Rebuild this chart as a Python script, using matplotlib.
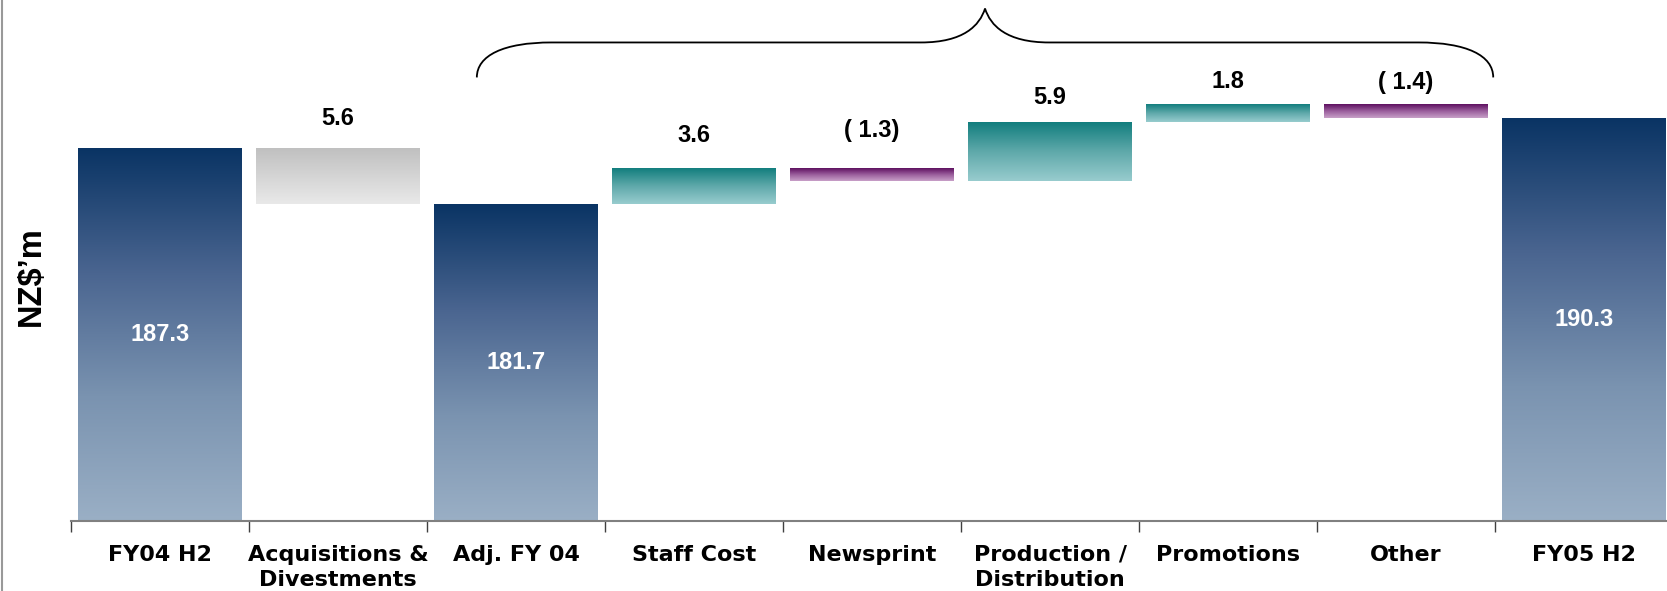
import numpy as np
import matplotlib
matplotlib.use("Agg")
import matplotlib.pyplot as plt
from matplotlib.colors import LinearSegmentedColormap
from matplotlib.path import Path
from matplotlib.patches import PathPatch
from matplotlib.lines import Line2D

# ---------------- data ----------------
categories = ["FY04 H2", "Acquisitions &\nDivestments", "Adj. FY 04", "Staff Cost", "Newsprint",
              "Production /\nDistribution", "Promotions", "Other", "FY05 H2"]
fy04_h2 = 187.3
acq_div = 5.6
adj_fy04 = 181.7
changes = [3.6, -1.3, 5.9, 1.8, -1.4]   # Staff Cost .. Other
fy05_h2 = 190.3

# ---------------- style ----------------
y_floor, y_ceiling = 150.0, 202.15
label_lift = [3.0, 3.3, 3.8, 2.45, 2.3, 2.2]   # value label offsets (acq + changes)
bar_w = 0.92
cmaps = {
    "total": LinearSegmentedColormap.from_list("tot", ["#0A3464", "#4A6590", "#7A93B0", "#9AAFC5"]),
    "adjust": LinearSegmentedColormap.from_list("adj", ["#C0C0C0", "#E9E9E9"]),
    "up": LinearSegmentedColormap.from_list("up", ["#127E7E", "#5FA9AA", "#98CCCE"]),
    "down": LinearSegmentedColormap.from_list("dn", ["#5E1060", "#9A5E9C", "#C8A0C8"]),
}

W, H, DPI = 1667, 591, 100
fig = plt.figure(figsize=(W / DPI, H / DPI), dpi=DPI)
ax_bottom = (H - 521) / H
ax = fig.add_axes([71 / W, ax_bottom, 9 * 178 / W, 1 - ax_bottom])

# ---------------- waterfall geometry ----------------
bottoms, tops, kinds = [], [], []
bottoms.append(y_floor); tops.append(fy04_h2); kinds.append("total")
bottoms.append(adj_fy04); tops.append(adj_fy04 + acq_div); kinds.append("adjust")
bottoms.append(y_floor); tops.append(adj_fy04); kinds.append("total")
run = adj_fy04
for c in changes:
    bottoms.append(min(run, run + c)); tops.append(max(run, run + c))
    kinds.append("up" if c > 0 else "down")
    run += c
bottoms.append(y_floor); tops.append(fy05_h2); kinds.append("total")

x = np.arange(len(categories))
heights = np.array(tops) - np.array(bottoms)
bars = ax.bar(x, heights, bottom=bottoms, width=bar_w, color="none", linewidth=0)

grad = np.linspace(0, 1, 256).reshape(-1, 1)
for patch, kind in zip(bars.patches, kinds):
    x0, y0 = patch.get_x(), patch.get_y()
    x1, y1 = x0 + patch.get_width(), y0 + patch.get_height()
    im = ax.imshow(grad, cmap=cmaps[kind], extent=[x0, x1, y0, y1], aspect="auto",
                   origin="upper", interpolation="bilinear", zorder=2)
    im.set_clip_path(patch)

# ---------------- labels ----------------
lab_font = dict(family=["Liberation Sans", "DejaVu Sans"], fontweight="bold", fontsize=17)
# totals (white, inside)
for i, v in [(0, fy04_h2), (2, adj_fy04), (8, fy05_h2)]:
    ax.text(x[i], (y_floor + v) / 2, f"{v:.1f}", ha="center", va="center", color="white",
            zorder=3, **lab_font)
# acquisitions
ax.text(x[1], tops[1] + label_lift[0], f"{acq_div:.1f}", ha="center", va="center",
        color="black", **lab_font)
for k, c in enumerate(changes):
    i = 3 + k
    txt = f"{c:.1f}" if c > 0 else f"( {abs(c):.1f})"
    ax.text(x[i], tops[i] + label_lift[k + 1], txt, ha="center", va="center",
            color="black", **lab_font)

# ---------------- axes styling ----------------
ax.set_xlim(-0.5, len(categories) - 0.5)
ax.set_ylim(y_floor, y_ceiling)
for s in ["left", "top", "right"]:
    ax.spines[s].set_visible(False)
ax.spines["bottom"].set_color("#808080")
ax.spines["bottom"].set_linewidth(1.5)
ax.set_yticks([])
ax.set_xticks(np.arange(len(categories) + 1) - 0.5)
ax.set_xticklabels([])
ax.tick_params(axis="x", which="major", length=8, width=1, color="#404040", direction="out")
ax.set_xticks(x, minor=True)
ax.set_xticklabels(categories, minor=True, fontsize=16, fontweight="bold",
                   family="DejaVu Sans", linespacing=1.33)
ax.tick_params(axis="x", which="minor", length=0, pad=17)

ax.set_ylabel("NZ\\$\u2019m", fontsize=23.5, fontweight="bold", family=["Liberation Sans", "DejaVu Sans"])
ax.yaxis.label.set_va("center")
ax.yaxis.set_label_coords(-0.025, 0.47)

# ---------------- brace over operating movements ----------------
bl = categories.index("Adj. FY 04") - 0.22
br = categories.index("Other") + 0.49
bm = (bl + br) / 2
y_end, y_mid, y_tip = 194.4, 197.9, 201.3
verts = [
    (bl, y_end), (bl, 196.6), (bl + 0.15, y_mid), (bl + 0.42, y_mid),
    (bm - 0.36, y_mid),
    (bm - 0.12, y_mid), (bm - 0.03, 199.6), (bm, y_tip),
    (bm + 0.03, 199.6), (bm + 0.12, y_mid), (bm + 0.36, y_mid),
    (br - 0.42, y_mid),
    (br - 0.15, y_mid), (br, 196.6), (br, y_end),
]
codes = [Path.MOVETO, Path.CURVE4, Path.CURVE4, Path.CURVE4,
         Path.LINETO,
         Path.CURVE4, Path.CURVE4, Path.CURVE4,
         Path.CURVE4, Path.CURVE4, Path.CURVE4,
         Path.LINETO,
         Path.CURVE4, Path.CURVE4, Path.CURVE4]
ax.add_patch(PathPatch(Path(verts, codes), fill=False, lw=1.3, color="black", clip_on=False))

# left frame line
fig.add_artist(Line2D([0.0012, 0.0012], [0, 1], transform=fig.transFigure, color="#999999", lw=1.5))

fig.savefig("out.png", dpi=DPI)
